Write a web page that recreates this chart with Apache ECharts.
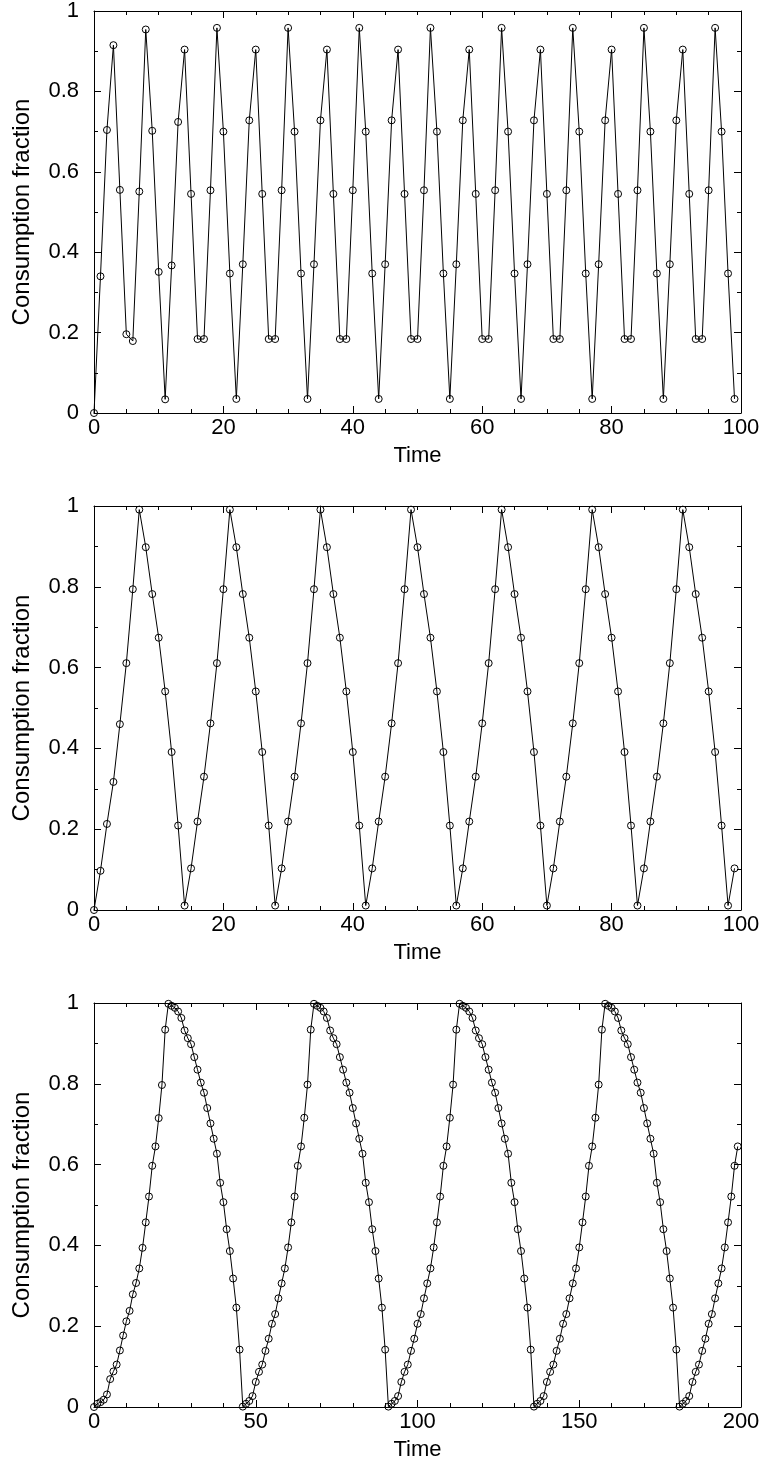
<!DOCTYPE html>
<html>
<head>
<meta charset="utf-8">
<script src="https://cdn.jsdelivr.net/npm/echarts@6/dist/echarts.min.js"></script>
<style>
html,body{margin:0;padding:0;background:#fff;}
#chart{width:764px;height:1473px;}
</style>
</head>
<body>
<div id="chart"></div>
<script>
// Panel 1: consumption fraction, time 0..99
var panel1Values = [
 0, 0.340, 0.704, 0.915, 0.555, 0.196, 0.179, 0.551, 0.954, 0.702,
 0.351, 0.034, 0.367, 0.724, 0.904, 0.545, 0.184, 0.184, 0.554, 0.958,
 0.700, 0.347, 0.035, 0.370, 0.728, 0.904, 0.545, 0.184, 0.184, 0.554,
 0.958, 0.700, 0.347, 0.035, 0.370, 0.728, 0.904, 0.545, 0.184, 0.184,
 0.554, 0.958, 0.700, 0.347, 0.035, 0.370, 0.728, 0.904, 0.545, 0.184,
 0.184, 0.554, 0.958, 0.700, 0.347, 0.035, 0.370, 0.728, 0.904, 0.545,
 0.184, 0.184, 0.554, 0.958, 0.700, 0.347, 0.035, 0.370, 0.728, 0.904,
 0.545, 0.184, 0.184, 0.554, 0.958, 0.700, 0.347, 0.035, 0.370, 0.728,
 0.904, 0.545, 0.184, 0.184, 0.554, 0.958, 0.700, 0.347, 0.035, 0.370,
 0.728, 0.904, 0.545, 0.184, 0.184, 0.554, 0.958, 0.700, 0.347, 0.035
];
// Panel 2: consumption fraction, time 0..99
var panel2Values = [
 0, 0.097, 0.213, 0.317, 0.460, 0.611, 0.794, 0.991, 0.898, 0.782,
 0.674, 0.541, 0.391, 0.209, 0.011, 0.103, 0.219, 0.330, 0.462, 0.611,
 0.794, 0.991, 0.898, 0.782, 0.674, 0.541, 0.391, 0.209, 0.011, 0.103,
 0.219, 0.330, 0.462, 0.611, 0.794, 0.991, 0.898, 0.782, 0.674, 0.541,
 0.391, 0.209, 0.011, 0.103, 0.219, 0.330, 0.462, 0.611, 0.794, 0.991,
 0.898, 0.782, 0.674, 0.541, 0.391, 0.209, 0.011, 0.103, 0.219, 0.330,
 0.462, 0.611, 0.794, 0.991, 0.898, 0.782, 0.674, 0.541, 0.391, 0.209,
 0.011, 0.103, 0.219, 0.330, 0.462, 0.611, 0.794, 0.991, 0.898, 0.782,
 0.674, 0.541, 0.391, 0.209, 0.011, 0.103, 0.219, 0.330, 0.462, 0.611,
 0.794, 0.991, 0.898, 0.782, 0.674, 0.541, 0.391, 0.209, 0.011, 0.103
];
// Panel 3: consumption fraction, time 0..199
var panel3Values = [
 0, 0.008, 0.012, 0.018, 0.031, 0.069, 0.088, 0.105, 0.140, 0.177,
 0.212, 0.238, 0.279, 0.307, 0.343, 0.394, 0.457, 0.521, 0.597, 0.645,
 0.715, 0.797, 0.934, 0.998, 0.993, 0.988, 0.979, 0.963, 0.932, 0.913,
 0.898, 0.866, 0.835, 0.803, 0.778, 0.740, 0.702, 0.664, 0.627, 0.555,
 0.507, 0.440, 0.386, 0.318, 0.246, 0.142, 0.001, 0.008, 0.015, 0.027,
 0.062, 0.087, 0.105, 0.139, 0.169, 0.206, 0.230, 0.269, 0.306, 0.343,
 0.395, 0.457, 0.521, 0.597, 0.645, 0.716, 0.798, 0.934, 0.998, 0.993,
 0.988, 0.979, 0.963, 0.932, 0.913, 0.898, 0.866, 0.835, 0.803, 0.778,
 0.740, 0.702, 0.664, 0.627, 0.555, 0.507, 0.440, 0.386, 0.318, 0.246,
 0.142, 0.001, 0.008, 0.015, 0.027, 0.062, 0.087, 0.105, 0.139, 0.169,
 0.206, 0.230, 0.269, 0.306, 0.343, 0.395, 0.457, 0.521, 0.597, 0.645,
 0.716, 0.798, 0.934, 0.998, 0.993, 0.988, 0.979, 0.963, 0.932, 0.913,
 0.898, 0.866, 0.835, 0.803, 0.778, 0.740, 0.702, 0.664, 0.627, 0.555,
 0.507, 0.440, 0.386, 0.318, 0.246, 0.142, 0.001, 0.008, 0.015, 0.027,
 0.062, 0.087, 0.105, 0.139, 0.169, 0.206, 0.230, 0.269, 0.306, 0.343,
 0.395, 0.457, 0.521, 0.597, 0.645, 0.716, 0.798, 0.934, 0.998, 0.993,
 0.988, 0.979, 0.963, 0.932, 0.913, 0.898, 0.866, 0.835, 0.803, 0.778,
 0.740, 0.702, 0.664, 0.627, 0.555, 0.507, 0.440, 0.386, 0.318, 0.246,
 0.142, 0.001, 0.008, 0.015, 0.027, 0.062, 0.087, 0.105, 0.139, 0.169,
 0.206, 0.230, 0.269, 0.306, 0.343, 0.395, 0.457, 0.521, 0.597, 0.645
];
var xMaxes = [100, 100, 200];
var xIntervals = [20, 20, 50];
var xMinorSplits = [4, 4, 5];
var yTickInterval = 0.2;
var xAxisTitle = 'Time';
var yAxisTitle = 'Consumption fraction';

var FONT = '"Liberation Sans", Arial, Helvetica, sans-serif';
var FS = 22;
var FS_YTITLE = 24;
var gridTops = [9, 506, 1003];
var allValues = [panel1Values, panel2Values, panel3Values];

var grids = [], xAxes = [], yAxes = [], series = [];
for (var p = 0; p < 3; p++) {
  grids.push({left: 94, top: gridTops[p], width: 647, height: 404, show: false});
  var tickCommon = {
    axisLine: {show: true, onZero: false, lineStyle: {color: '#000', width: 1}},
    axisTick: {show: true, inside: true, length: 7, lineStyle: {color: '#000', width: 1}},
    splitLine: {show: false}
  };
  xAxes.push(Object.assign({
    type: 'value', gridIndex: p, position: 'bottom', min: 0, max: xMaxes[p], interval: xIntervals[p],
    minorTick: {show: true, splitNumber: xMinorSplits[p], length: 4, lineStyle: {color: '#000', width: 1}},
    axisLabel: {show: true, color: '#000', fontFamily: FONT, fontSize: FS, margin: 4},
    name: xAxisTitle, nameLocation: 'middle', nameGap: 32,
    nameTextStyle: {color: '#000', fontFamily: FONT, fontSize: FS}
  }, tickCommon));
  xAxes.push(Object.assign({
    type: 'value', gridIndex: p, position: 'top', min: 0, max: xMaxes[p], interval: xIntervals[p],
    minorTick: {show: true, splitNumber: xMinorSplits[p], length: 4, lineStyle: {color: '#000', width: 1}},
    axisLabel: {show: false}
  }, tickCommon));
  yAxes.push(Object.assign({
    type: 'value', gridIndex: p, position: 'left', min: 0, max: 1, interval: yTickInterval,
    minorTick: {show: true, splitNumber: 2, length: 4, lineStyle: {color: '#000', width: 1}},
    axisLabel: {show: true, color: '#000', fontFamily: FONT, fontSize: FS, margin: 15},
    name: yAxisTitle, nameLocation: 'middle', nameGap: 60, nameRotate: 90,
    nameTextStyle: {color: '#000', fontFamily: FONT, fontSize: FS_YTITLE}
  }, tickCommon));
  yAxes.push(Object.assign({
    type: 'value', gridIndex: p, position: 'right', min: 0, max: 1, interval: yTickInterval,
    minorTick: {show: true, splitNumber: 2, length: 4, lineStyle: {color: '#000', width: 1}},
    axisLabel: {show: false}
  }, tickCommon));
  series.push({
    type: 'line',
    xAxisIndex: p * 2, yAxisIndex: p * 2,
    data: allValues[p].map(function (v, i) { return [i, v]; }),
    showSymbol: true, showAllSymbol: true,
    symbol: 'circle', symbolSize: 7,
    itemStyle: {color: 'rgba(0,0,0,0)', borderColor: '#000', borderWidth: 1},
    lineStyle: {color: '#000', width: 1},
    clip: false,
    animation: false
  });
}

var chart = echarts.init(document.getElementById('chart'), null, {renderer: 'canvas'});
chart.setOption({
  animation: false,
  backgroundColor: '#fff',
  grid: grids,
  xAxis: xAxes,
  yAxis: yAxes,
  series: series
});
</script>
</body>
</html>
